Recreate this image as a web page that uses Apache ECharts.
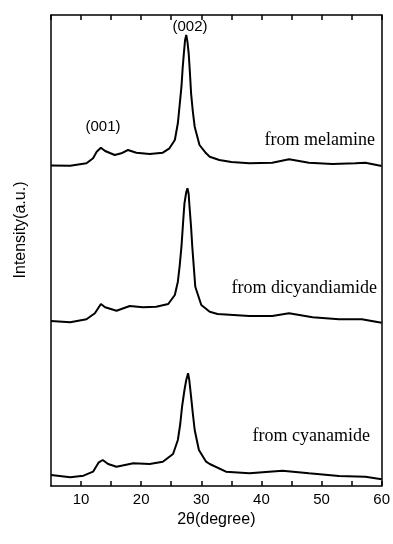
<!DOCTYPE html>
<html>
<head>
<meta charset="utf-8">
<script src="https://cdn.jsdelivr.net/npm/echarts@6/dist/echarts.min.js"></script>
<style>html,body{margin:0;padding:0;background:#fff}#c{width:393px;height:544px}</style>
</head>
<body>
<div id="c"></div>
<script>
// 2theta (degree) positions and intensities (a.u., stacked with offsets)
var melamineX = [5, 5.3, 8.2, 10.9, 12.0, 12.6, 13.3, 14.0, 15.6, 16.7, 17.8, 19.2, 21.4, 23.6, 24.7, 25.6, 26.1, 26.4, 26.7, 26.9, 27.1, 27.3, 27.5, 27.7, 27.9, 28.1, 28.3, 28.6, 28.9, 29.7, 30.8, 31.4, 33, 35, 38, 41.8, 44.6, 47.9, 51.8, 55.6, 57.3, 60];
var melamineY = [320.5, 321, 320.3, 322.7, 327.7, 334.3, 338.3, 335, 331, 332.7, 336, 333.3, 332, 333.3, 337.7, 346, 362.7, 381, 399.3, 418, 432.7, 446, 451, 444, 432.7, 414, 392.7, 374, 359.3, 341, 332.7, 329.3, 326, 324, 322.7, 323.3, 326.7, 323.3, 322, 322.7, 323.3, 320];

var dicyX = [5, 5.3, 8.2, 10.9, 12.3, 13.3, 14, 15.9, 18.1, 20.3, 22.5, 24.5, 25.6, 26.1, 26.4, 26.7, 27.0, 27.2, 27.5, 27.7, 27.9, 28.0, 28.3, 28.5, 29.0, 30, 31.4, 32.7, 38, 41.8, 44.6, 48.5, 52.9, 56.7, 60];
var dicyY = [165, 165, 163.7, 166.7, 172.7, 182, 178.7, 175.3, 180, 178.7, 179.3, 182, 191, 204.3, 220, 239.3, 266, 282.7, 294, 297.7, 292, 282.7, 259, 239.3, 199.3, 181, 174.3, 172, 170, 170, 172.7, 168.7, 166.7, 166.7, 163.3];

var cyanX = [5, 5.3, 8.2, 10.4, 12.0, 12.9, 13.6, 14.5, 15.9, 18.7, 21.4, 23.6, 25.3, 26.1, 26.5, 26.8, 27.2, 27.5, 27.8, 28.0, 28.3, 28.6, 28.9, 29.6, 30.8, 31.4, 34.1, 38, 43.5, 47.9, 52.9, 57.3, 60];
var cyanY = [11, 11, 8.7, 10.3, 14.3, 23.3, 26, 22, 19.3, 22.7, 22, 24.3, 32, 46, 62, 79.3, 96, 106, 112.7, 106, 89.3, 72, 56, 36, 24.3, 22, 14.3, 12.7, 15.3, 12.7, 10, 9.3, 6.7];

var majorTicks = [10, 20, 30, 40, 50, 60];
var sampleNames = ['from melamine', 'from dicyandiamide', 'from cyanamide'];
var peakNames = ['(001)', '(002)'];

function pairs(xs, ys) { return xs.map(function (x, i) { return [x, ys[i]]; }); }

var chart = echarts.init(document.getElementById('c'));
var axisLine = { show: true, onZero: false, lineStyle: { color: '#000', width: 1.5 } };
function xAxisDef(pos, labels) {
  return {
    type: 'value', position: pos, min: 5, max: 60, interval: 5,
    axisLine: axisLine,
    splitLine: { show: false },
    axisTick: { show: true, inside: true, length: 5, lineStyle: { color: '#000', width: 1.5 } },
    axisLabel: labels ? {
      show: true, color: '#000', fontSize: 15, fontFamily: 'Liberation Sans', margin: 6,
      showMinLabel: false,
      formatter: function (v) { return majorTicks.indexOf(v) >= 0 ? String(v) : ''; }
    } : { show: false }
  };
}
var xAxes = [xAxisDef('bottom', true), xAxisDef('top', false)];
xAxes[0].name = '2θ(degree)';
xAxes[0].nameLocation = 'middle';
xAxes[0].nameGap = 22;
xAxes[0].nameTextStyle = { color: '#000', fontSize: 16, fontFamily: 'Liberation Sans' };

function ser(name, xs, ys) {
  return { name: name, type: 'line', xAxisIndex: 0, data: pairs(xs, ys), showSymbol: false, symbol: 'none',
    lineStyle: { color: '#000', width: 2 }, animation: false };
}

chart.setOption({
  animation: false,
  grid: { left: 51, right: 9, top: 15, bottom: 58 },
  xAxis: xAxes,
  yAxis: [
    { type: 'value', position: 'left', min: 0, max: 471, axisLine: axisLine, axisTick: { show: false }, axisLabel: { show: false }, splitLine: { show: false } },
    { type: 'value', position: 'right', min: 0, max: 471, axisLine: axisLine, axisTick: { show: false }, axisLabel: { show: false }, splitLine: { show: false } }
  ],
  series: [ser(sampleNames[0], melamineX, melamineY), ser(sampleNames[1], dicyX, dicyY), ser(sampleNames[2], cyanX, cyanY)],
  graphic: [
    { type: 'text', style: { x: 103, y: 127, text: peakNames[0], font: '15px "Liberation Sans"', fill: '#000', textAlign: 'center', textVerticalAlign: 'middle' } },
    { type: 'text', style: { x: 190, y: 27, text: peakNames[1], font: '15px "Liberation Sans"', fill: '#000', textAlign: 'center', textVerticalAlign: 'middle' } },
    { type: 'text', style: { x: 375, y: 140, text: sampleNames[0], font: '18px "Liberation Serif"', fill: '#000', textAlign: 'right', textVerticalAlign: 'middle' } },
    { type: 'text', style: { x: 377, y: 288, text: sampleNames[1], font: '18px "Liberation Serif"', fill: '#000', textAlign: 'right', textVerticalAlign: 'middle' } },
    { type: 'text', style: { x: 370, y: 436, text: sampleNames[2], font: '18px "Liberation Serif"', fill: '#000', textAlign: 'right', textVerticalAlign: 'middle' } },
    { type: 'text', x: 21, y: 230, rotation: Math.PI / 2, style: { x: 0, y: 0, text: 'Intensity(a.u.)', font: '16px "Liberation Sans"', fill: '#000', textAlign: 'center', textVerticalAlign: 'middle' } }
  ]
});
</script>
</body>
</html>
